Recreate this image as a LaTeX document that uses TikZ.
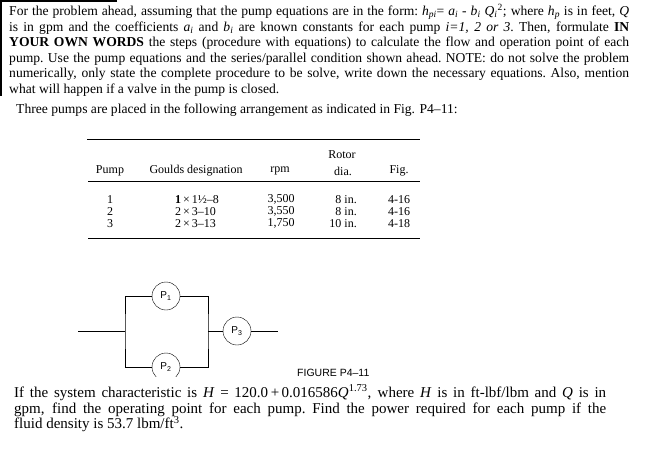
\documentclass[tikz,border=0pt]{standalone}
\usepackage{fontspec}
\setmainfont{Liberation Serif}
\setsansfont{Liberation Sans}
\usepackage{tikz}
\usetikzlibrary{positioning,calc}
\newcommand{\isub}[2]{\textit{#1}\textsubscript{\textit{#2}}}
\newcommand{\jline}[1]{\makebox[620pt][s]{#1}}
\newcommand{\kline}[1]{\makebox[592pt][s]{#1}}

\begin{document}
\begin{tikzpicture}[x=1pt,y=-1pt,
    txt/.style={anchor=base west,inner sep=0pt,font=\fontsize{13.6}{15}\selectfont},
    btxt/.style={anchor=base west,inner sep=0pt,font=\fontsize{15}{16}\selectfont},
    cell/.style={inner sep=0pt,font=\fontsize{12}{13}\selectfont},
    pump/.style={circle,draw,minimum size=28pt,inner sep=0pt,font=\sffamily\fontsize{10}{11}\selectfont}]
    \useasboundingbox (0,0) rectangle (647,466);

    % corner frame
    \draw[line width=1.5pt] (117,0.75) -- (0.75,0.75) -- (0.75,96);

    % problem statement
    \node[txt] (l1) at (9,15.5) {\jline{For the problem ahead, assuming that the pump equations are in the form:\ \isub{h}{pi}= \isub{a}{i} - \isub{b}{i} \isub{Q}{i}\textsuperscript{2}; where \isub{h}{p} is in feet, \textit{Q}}};
    \node[txt] (l2) at (9,31) {\jline{is in gpm and the coefficients \isub{a}{i} and \isub{b}{i} are known constants for each pump \textit{i=1, 2 or 3}.\ Then, formulate \textbf{IN}}};
    \node[txt] (l3) at (9,46.5) {\jline{\textbf{YOUR OWN WORDS} the steps (procedure with equations) to calculate the flow and operation point of each}};
    \node[txt] (l4) at (9,62) {\jline{pump.\ Use the pump equations and the series/parallel condition shown ahead.\ NOTE: do not solve the problem}};
    \node[txt] (l5) at (9,77.5) {\jline{numerically, only state the complete procedure to be solve, write down the necessary equations.\ Also, mention}};
    \node[txt] (l6) at (9,93) {what will happen if a valve in the pump is closed.};
    \node[txt] (l7) at (16,113) {Three pumps are placed in the following arrangement as indicated in Fig. P4--11:};

    % table
    \draw[line width=0.8pt] (87,139) -- (420,139);
    \node[cell] (hrot) at (342,155) {Rotor};
    \foreach \x/\h/\lab in {110/hpump/Pump, 196/hgou/Goulds designation, 280/hrpm/rpm, 343/hdia/dia., 399/hfig/Fig.} {
        \node[cell] (\h) at (\x,171) {\lab};
    }
    \draw[line width=0.8pt] (88,181) -- (420,181);
    \foreach \y/\n/\g/\r/\d/\f in {199.5/1/{\textbf{1}\,×\,1½–8}/{3,500}/8 in./4-16, 211.5/2/{2\,×\,3–10}/{3,550}/8 in./4-16, 223.5/3/{2\,×\,3–13}/{1,750}/10 in./4-18} {
        \node[cell] (pump\n) at (110,\y) {\n};
        \node[cell,anchor=west] (gou\n) at (175,\y) {\g};
        \node[cell] (rpm\n) at (281,\y) {\r};
        \node[cell,anchor=east] (dia\n) at (357,\y) {\d};
        \node[cell] (fig\n) at (399,\y) {\f};
    }
    \draw[line width=0.8pt] (88,238) -- (420,238);

    % pump arrangement
    \coordinate (in) at (78,331);
    \coordinate (jl) at (125,331);
    \coordinate (jr) at (208,331);
    \coordinate (out) at (278,331);
    \node[pump] (p1) at (166,296) {P\textsubscript{1}};
    \node[pump,draw=none] (p2) at (166,367) {P\textsubscript{2}};
    \node[pump] (p3) at (237,331) {P\textsubscript{3}};
    \begin{scope}
        \clip (140,345) rectangle (195,376);
        \draw (p2) circle[radius=14];
    \end{scope}
    \draw (in) -- (jl);
    \draw (p1.west) -| (jl) |- (p2.west);
    \draw (p1.east) -| (jr) |- (p2.east);
    \draw (jr) -- (p3.west);
    \draw (p3.east) -- (out);
    \node[anchor=west,inner sep=0pt,font=\sffamily\fontsize{10.5}{11}\selectfont] (figlab) at (297,373) {FIGURE P4--11};

    % system characteristic
    \node[btxt] (b1) at (14,397) {\kline{If the system characteristic is \textit{H} = 120.0\,+\,0.016586\textit{Q}\textsuperscript{1.73}, where \textit{H} is in ft-lbf/lbm and \textit{Q} is in}};
    \node[btxt] (b2) at (14,413) {\kline{gpm, find the operating point for each pump.\ Find the power required for each pump if the}};
    \node[btxt] (b3) at (14,428.5) {fluid density is 53.7 lbm/ft\textsuperscript{3}.};
\end{tikzpicture}
\end{document}
